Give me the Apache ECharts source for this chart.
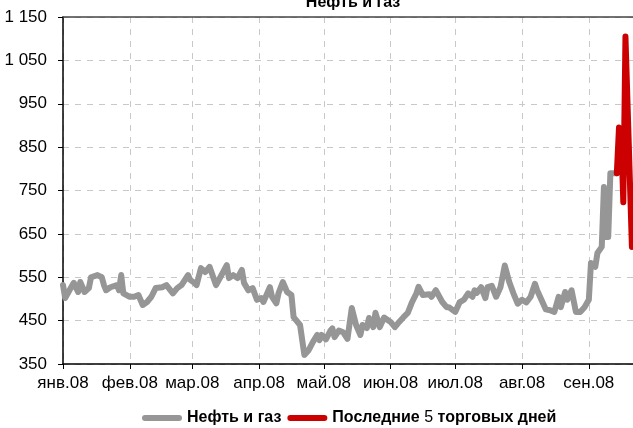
<!DOCTYPE html>
<html><head><meta charset="utf-8">
<script src="https://cdn.jsdelivr.net/npm/echarts@6/dist/echarts.min.js"></script>
<style>html,body{margin:0;padding:0;background:#fff}#c{width:633px;height:428px}</style>
</head><body><div id="c"></div>
<script>
const monthNames = ['янв','фев','мар','апр','май','июн','июл','авг','сен','окт','ноя','дек'];
const seriesNames = ['Нефть и газ', 'Последние 5 торговых дней'];
// day offsets from 1 Jan 2008 and index values
const grayDays = [0,1,3,5,7,8,10,12,13,16,18,19,20,22,25,26,27,28,31,33,35,37,39,41,43,46,48,51,53,55,58,59,61,62,64,66,68,71,73,76,77,79,81,83,84,86,88,90,92,93,96,97,99,100,102,104,106,107,110,112,114,116,118,119,120,122,124,125,126,128,130,132,134,136,138,139,141,142,144,145,147,149,152,154,156,158,160,162,164,165,167,170,171,173,176,178,179,182,184,186,188,190,191,192,194,196,197,199,201,203,205,207,209,211,213,215,217,219,220,222,224,226,228,230,231,233,234,236,238,240,242,244,245,247,248,250,251,252,253,254,256,257];
const grayValues = [532,502,520,537,516,539,516,525,550,555,550,532,520,527,532,520,555,513,505,505,509,486,493,505,525,527,532,513,525,532,555,544,537,532,571,562,574,532,550,578,548,555,548,567,537,520,525,498,502,493,527,505,490,513,539,516,509,458,440,371,382,401,417,405,417,407,426,432,412,427,423,408,479,440,417,440,433,456,435,468,435,457,447,435,447,458,468,493,513,528,509,511,505,520,493,481,481,470,492,498,513,505,520,514,527,502,527,530,505,527,577,540,513,489,498,492,505,535,520,498,476,474,470,505,481,516,498,520,470,470,481,498,583,574,606,620,758,643,643,790,790,790];
const redDays = [257,258,259,260,261,264];
const redValues = [790,895,885,723,1105,620];
const yMin = 350, yMax = 1150, yStep = 100;
const axisEndDay = 264.5;

const FONT = '"Liberation Sans Narrow","Arial Narrow","Liberation Sans",Arial,sans-serif';
const dayToTime = d => new Date(2008, 0, 1).getTime() + d * 86400000;
const pairs = (days, vals) => days.map((d, i) => [dayToTime(d), vals[i]]);

const chart = echarts.init(document.getElementById('c'), null, {renderer: 'canvas'});
chart.setOption({
  animation: false,
  backgroundColor: '#fff',
  title: {
    text: 'Нефть и газ', left: 348, top: -10, textAlign: 'center',
    textStyle: {fontFamily: FONT, fontSize: 16, fontWeight: 'bold', color: '#000'}
  },
  legend: {
    left: 142, top: 410, padding: 0, itemWidth: 40, itemHeight: 6, itemGap: 6,
    icon: 'path://M3,0 L37,0 A3,3 0 0 1 37,6 L3,6 A3,3 0 0 1 3,0 Z',
    textStyle: {
      fontFamily: FONT, fontSize: 16, fontWeight: 'bold', color: '#000',
      rich: {
        b: {fontFamily: FONT, fontSize: 16, fontWeight: 'bold', color: '#000'},
        n: {fontFamily: FONT, fontSize: 16, fontWeight: 'normal', color: '#000'}
      }
    },
    formatter: name => name === seriesNames[1] ? '{b|Последние }{n|5}{b| торговых дней}' : '{b|' + name + '}',
    data: seriesNames
  },
  grid: {left: 63, top: 17, right: 0, bottom: 64, containLabel: false},
  xAxis: [{
    type: 'time',
    min: dayToTime(0), max: dayToTime(axisEndDay),
    splitNumber: 9, minInterval: 28 * 86400000, maxInterval: 31 * 86400000,
    axisLine: {lineStyle: {color: '#000', width: 1.5}},
    axisTick: {show: true, length: 5, lineStyle: {color: '#000'}},
    axisLabel: {
      fontFamily: FONT, fontSize: 17, color: '#000', margin: 11, showMaxLabel: false,
      formatter: v => { const d = new Date(v); return monthNames[d.getMonth()] + '.' + String(d.getFullYear()).slice(2); }
    },
    splitLine: {show: true, lineStyle: {color: '#c8c8c8', type: [6, 6], width: 1}}
  }, {
    type: 'value', position: 'top', min: 0, max: 1,
    axisLine: {show: true, lineStyle: {color: '#444', width: 1.5}},
    axisTick: {show: false}, axisLabel: {show: false}, splitLine: {show: false}
  }],
  yAxis: {
    type: 'value', min: yMin, max: yMax, interval: yStep,
    axisLine: {show: true, lineStyle: {color: '#000', width: 1.5}},
    axisTick: {show: true, length: 5, lineStyle: {color: '#000'}},
    axisLabel: {
      fontFamily: FONT, fontSize: 17, color: '#000', margin: 16,
      formatter: v => v >= 1000 ? Math.floor(v / 1000) + ' ' + String(v % 1000).padStart(3, '0') : String(v)
    },
    splitLine: {show: true, lineStyle: {color: '#c8c8c8', type: [6, 6], width: 1}}
  },
  series: [{
    name: seriesNames[0], type: 'line', xAxisIndex: 0, showSymbol: false, symbol: 'none',
    lineStyle: {color: '#969696', width: 6, join: 'round', cap: 'round'},
    itemStyle: {color: '#969696'},
    data: pairs(grayDays, grayValues)
  }, {
    name: seriesNames[1], type: 'line', xAxisIndex: 0, showSymbol: false, symbol: 'none',
    lineStyle: {color: '#cc0000', width: 6, join: 'round', cap: 'round'},
    itemStyle: {color: '#cc0000'},
    data: pairs(redDays, redValues)
  }]
});
</script></body></html>
